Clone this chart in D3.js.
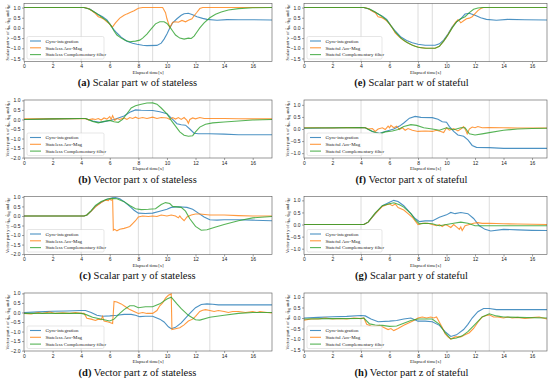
<!DOCTYPE html>
<html>
<head>
<meta charset="utf-8">
<script src="https://cdn.jsdelivr.net/npm/d3@7"></script>
<style>
  body { margin: 0; background: #fff; }
  svg { display: block; font-family: "Liberation Serif", "DejaVu Serif", serif; }
  .tick text { font-size: 5px; fill: #222; }
  .tick line, .domain { stroke: #444; stroke-width: 0.5; }
</style>
</head>
<body>
<svg></svg>
<script>
// time markers and ticks
const markTimes = [4, 8, 9, 13];
const xTicks = [0, 2, 4, 6, 8, 10, 12, 14, 16];
const colors = ["#1f77b4", "#ff7f0e", "#2ca02c"];

// (a) scalar w, stateless
const aGyro = [[0,1],[4.2,1],[4.6,0.93],[5.1,0.7],[5.5,0.55],[5.8,0.4],[6.1,0.1],[6.3,-0.1],[6.5,-0.25],[6.8,-0.45],[7.2,-0.65],[7.6,-0.75],[7.9,-0.8],[8.3,-0.85],[8.6,-0.87],[9.3,-0.86],[9.6,-0.75],[9.8,-0.55],[10.0,-0.3],[10.2,0.0],[10.4,0.25],[10.7,0.45],[11.0,0.62],[11.2,0.7],[11.5,0.72],[11.8,0.65],[12.1,0.55],[12.5,0.47],[12.8,0.42],[13.5,0.38],[14.2,0.41],[15,0.4],[16,0.4],[17.35,0.39]];
const aAccMag = [[0,1],[4.2,1],[4.5,0.95],[4.8,0.82],[5.0,0.7],[5.2,0.55],[5.4,0.5],[5.6,0.42],[5.8,0.3],[6.0,0.2],[6.1,0.08],[6.2,0.05],[6.4,0.25],[6.7,0.48],[7.0,0.62],[7.2,0.69],[7.5,0.78],[7.7,0.84],[8.0,0.97],[8.3,1.0],[9.7,1.0],[9.9,0.75],[10.0,0.45],[10.2,0.02],[10.4,0.28],[10.6,0.3],[10.8,0.28],[11.05,0.37],[11.3,0.3],[11.5,0.38],[11.75,0.45],[11.9,0.6],[12.1,0.77],[12.3,0.95],[12.5,1.0],[17.35,1.0]];
const aComp = [[0,1],[4.2,1],[4.6,0.92],[5.0,0.75],[5.4,0.55],[5.8,0.35],[6.1,0.1],[6.3,-0.15],[6.5,-0.35],[6.8,-0.5],[7.1,-0.62],[7.4,-0.68],[7.8,-0.65],[8.1,-0.6],[8.3,-0.5],[8.6,-0.3],[8.9,-0.05],[9.2,0.2],[9.5,0.3],[9.8,0.3],[10.0,0.22],[10.2,0.05],[10.4,-0.15],[10.6,-0.35],[10.9,-0.5],[11.2,-0.55],[11.5,-0.5],[11.7,-0.52],[11.9,-0.4],[12.1,-0.2],[12.3,0.0],[12.6,0.25],[13.0,0.5],[13.4,0.67],[13.8,0.78],[14.3,0.88],[15,0.95],[16,0.99],[17.35,1.0]];

// (e) scalar w, stateful
const eGyro = [[0,1],[4.2,1],[4.6,0.92],[5.1,0.72],[5.5,0.58],[5.8,0.42],[6.1,0.12],[6.4,-0.15],[6.8,-0.45],[7.2,-0.62],[7.6,-0.73],[8.0,-0.8],[8.5,-0.85],[9.2,-0.85],[9.5,-0.78],[9.8,-0.6],[10.1,-0.3],[10.4,0.05],[10.7,0.3],[11.0,0.45],[11.3,0.68],[11.6,0.72],[12.0,0.62],[12.4,0.5],[12.8,0.42],[13.5,0.38],[14.3,0.42],[15.5,0.4],[17.05,0.39]];
const eAccMag = [[0,1],[4.2,1],[4.5,0.95],[4.8,0.82],[5.0,0.75],[5.2,0.55],[5.4,0.52],[5.6,0.45],[5.8,0.35],[6.0,0.2],[6.2,0.0],[6.4,-0.25],[6.7,-0.45],[7.0,-0.62],[7.4,-0.78],[7.8,-0.9],[8.2,-0.97],[8.6,-1.0],[9.2,-1.0],[9.5,-0.9],[9.8,-0.65],[10.0,-0.45],[10.3,-0.1],[10.6,0.25],[10.8,0.4],[10.9,0.35],[11.0,0.25],[11.2,0.35],[11.4,0.45],[11.6,0.48],[11.8,0.55],[12.0,0.7],[12.2,0.85],[12.4,0.95],[12.6,1.0],[17.05,1.0]];
const eComp = [[0,1],[4.2,1],[4.6,0.93],[5.0,0.78],[5.4,0.6],[5.8,0.38],[6.1,0.1],[6.4,-0.2],[6.8,-0.5],[7.2,-0.7],[7.6,-0.85],[8.0,-0.95],[8.5,-1.0],[9.2,-1.0],[9.5,-0.9],[9.8,-0.65],[10.1,-0.35],[10.4,0.0],[10.7,0.3],[11.0,0.45],[11.3,0.55],[11.6,0.75],[11.9,0.92],[12.2,0.98],[12.5,1.0],[17.05,1.0]];

// (b) vector x, stateless
const bGyro = [[0,0.0],[2,0.03],[4,0.05],[4.3,0.05],[4.8,-0.08],[5.3,-0.15],[5.7,-0.1],[6.0,-0.05],[6.3,0.0],[6.7,0.1],[7.0,0.18],[7.4,0.38],[7.8,0.5],[8.2,0.48],[9.0,0.47],[9.5,0.4],[10.0,0.3],[10.2,0.15],[10.4,0.0],[10.7,-0.22],[11.0,-0.28],[11.3,-0.3],[11.6,-0.5],[11.9,-0.72],[12.2,-0.75],[13,-0.75],[14,-0.77],[15,-0.8],[17.35,-0.8]];
const bAccMag = [[0,0.03],[2,0.03],[4,0.04],[4.3,0.05],[4.5,-0.02],[4.8,0.03],[5.0,0.0],[5.2,0.05],[5.4,-0.03],[5.6,0.08],[5.8,0.02],[6.0,0.15],[6.1,0.0],[6.2,0.2],[6.35,-0.05],[6.5,0.05],[6.7,0.0],[7.0,0.08],[7.2,0.0],[7.4,0.1],[7.6,0.05],[7.8,0.12],[8.0,0.05],[8.3,0.1],[8.6,0.05],[9.0,0.12],[9.3,0.05],[9.6,0.1],[10.0,0.08],[10.2,0.0],[10.4,0.1],[10.6,0.02],[10.8,0.1],[11.0,0.0],[11.2,0.1],[11.4,-0.05],[11.5,-0.2],[11.6,0.0],[11.8,0.08],[12.0,0.03],[12.3,0.1],[12.6,0.05],[13,0.05],[14,0.05],[15,0.04],[16,0.03],[17.35,0.03]];
const bComp = [[0,0.0],[2,0.03],[4,0.05],[4.3,0.05],[4.8,-0.1],[5.2,-0.18],[5.6,-0.1],[6.0,-0.05],[6.3,-0.12],[6.6,-0.15],[6.9,0.0],[7.2,0.3],[7.5,0.6],[7.8,0.72],[8.2,0.8],[8.6,0.86],[9.0,0.87],[9.3,0.8],[9.6,0.6],[10.0,0.3],[10.3,-0.05],[10.6,-0.35],[10.9,-0.65],[11.2,-0.83],[11.5,-0.88],[11.8,-0.85],[12.0,-0.65],[12.3,-0.4],[12.7,-0.25],[13.2,-0.18],[14,-0.13],[15,-0.08],[16,-0.03],[17.35,0.0]];

// (f) vector x, stateful
const fGyro = [[0,0.03],[2,0.04],[4,0.06],[4.3,0.05],[4.8,-0.1],[5.3,-0.18],[5.7,-0.1],[6.0,-0.05],[6.3,0.0],[6.7,0.12],[7.0,0.25],[7.4,0.45],[7.8,0.52],[8.2,0.48],[9.0,0.47],[9.4,0.4],[9.7,0.3],[10.0,0.28],[10.2,0.1],[10.5,-0.1],[10.8,-0.25],[11.2,-0.3],[11.5,-0.45],[11.8,-0.68],[12.1,-0.76],[13,-0.77],[14,-0.8],[17.05,-0.8]];
const fAccMag = [[0,0.05],[1,0.05],[2,0.04],[3,0.06],[4,0.05],[4.3,0.05],[4.5,0.0],[4.8,0.02],[5.0,-0.1],[5.2,0.0],[5.5,0.05],[5.7,-0.02],[5.9,0.12],[6.0,0.05],[6.1,0.15],[6.3,0.05],[6.5,0.12],[6.7,-0.02],[6.9,0.05],[7.1,-0.05],[7.3,0.02],[7.6,-0.05],[8.0,-0.1],[8.5,-0.08],[9.0,-0.1],[9.3,-0.05],[9.6,-0.1],[9.8,-0.15],[10.0,0.05],[10.2,-0.05],[10.5,0.02],[10.8,-0.08],[11.0,0.0],[11.2,0.1],[11.35,-0.05],[11.45,-0.2],[11.6,0.0],[11.8,0.08],[12.0,0.05],[12.2,0.1],[12.5,0.05],[13,0.06],[14,0.05],[15,0.04],[17.05,0.04]];
const fComp = [[0,0.04],[2,0.05],[4,0.06],[4.3,0.05],[4.8,-0.1],[5.3,-0.2],[5.7,-0.12],[6.2,-0.08],[6.6,-0.02],[7.0,0.1],[7.5,0.18],[7.9,0.15],[8.4,0.05],[9.0,0.0],[9.5,-0.05],[10.0,0.05],[10.5,-0.03],[11.0,0.05],[11.3,0.05],[11.6,-0.2],[12.0,-0.25],[12.5,-0.2],[13,-0.15],[14,-0.05],[15,0.0],[16,0.02],[17.05,0.03]];

// (c) vector y, stateless
const cGyro = [[0,0],[4.2,0],[4.4,0.05],[4.7,0.25],[5.0,0.5],[5.4,0.72],[5.8,0.88],[6.2,0.95],[6.4,0.97],[6.7,0.9],[7.0,0.75],[7.4,0.5],[7.7,0.3],[8.0,0.15],[8.5,0.13],[9.0,0.15],[9.5,0.25],[10.0,0.35],[10.3,0.45],[10.8,0.48],[11.4,0.45],[11.8,0.35],[12.2,0.15],[12.6,-0.05],[13,-0.2],[13.5,-0.22],[14,-0.2],[15,-0.2],[16,-0.22],[17.35,-0.25]];
const cAccMag = [[0,0],[4.2,0],[4.4,0.05],[4.7,0.25],[5.0,0.48],[5.4,0.7],[5.7,0.83],[5.9,0.8],[6.0,0.9],[6.1,0.82],[6.2,0.88],[6.25,-0.75],[6.35,-0.7],[6.5,-0.78],[6.7,-0.7],[7.0,-0.65],[7.2,-0.6],[7.4,-0.55],[7.6,-0.4],[7.8,-0.25],[8.0,-0.05],[8.3,0.0],[8.7,-0.03],[9.0,0.0],[9.3,-0.03],[9.6,0.05],[10.0,0.0],[10.3,0.05],[10.6,0.0],[10.8,-0.1],[10.9,0.0],[11.0,-0.1],[11.2,-0.25],[11.4,-0.05],[11.7,0.05],[12.0,0.1],[12.3,0.1],[13,0.05],[14,0.05],[15,0.02],[16,0.0],[17.35,0.0]];
const cComp = [[0,0],[4.2,0],[4.4,0.05],[4.7,0.28],[5.0,0.55],[5.4,0.76],[5.8,0.88],[6.2,0.92],[6.5,0.9],[7.0,0.75],[7.4,0.55],[7.8,0.38],[8.2,0.33],[8.7,0.35],[9.2,0.38],[9.6,0.6],[9.9,0.7],[10.2,0.65],[10.4,0.5],[11.0,0.45],[11.3,0.25],[11.6,-0.15],[12.0,-0.55],[12.4,-0.75],[12.8,-0.72],[13.3,-0.6],[14,-0.45],[15,-0.25],[16,-0.1],[17.35,-0.03]];

// (g) vector y, stateful
const gGyro = [[0,0],[4.2,0],[4.5,0.1],[5.0,0.45],[5.5,0.78],[6.0,0.92],[6.3,1.0],[6.6,0.95],[7.0,0.78],[7.5,0.45],[7.8,0.25],[8.1,0.12],[8.5,0.15],[9.0,0.15],[9.5,0.3],[10.0,0.4],[10.3,0.5],[10.6,0.45],[11.0,0.5],[11.5,0.45],[11.9,0.25],[12.3,-0.05],[12.7,-0.2],[13.1,-0.27],[14,-0.2],[15,-0.22],[16,-0.24],[17.05,-0.25]];
const gAccMag = [[0,0],[4.2,0],[4.5,0.1],[5.0,0.45],[5.5,0.75],[5.8,0.82],[6.0,0.85],[6.2,0.78],[6.4,0.85],[6.6,0.7],[7.0,0.6],[7.3,0.45],[7.6,0.3],[8.0,0.0],[8.3,0.05],[8.7,0.05],[9.0,0.0],[9.3,-0.05],[9.5,0.0],[9.7,-0.08],[9.9,0.0],[10.1,-0.05],[10.3,-0.12],[10.5,0.0],[10.7,-0.1],[10.9,-0.2],[11.0,-0.1],[11.1,-0.25],[11.3,-0.05],[11.6,0.0],[11.9,0.05],[12.2,0.08],[12.5,0.05],[13,0.05],[14,0.03],[15,0.02],[17.05,0.0]];
const gComp = [[0,0],[4.2,0],[4.5,0.1],[5.0,0.48],[5.5,0.78],[6.0,0.86],[6.3,0.9],[6.7,0.82],[7.0,0.72],[7.5,0.45],[7.8,0.2],[8.1,0.03],[8.5,0.05],[9.0,0.03],[9.5,-0.05],[10.0,0.0],[10.5,0.05],[11.0,0.1],[11.5,0.05],[12.0,-0.05],[13,-0.05],[14,-0.05],[17.05,-0.05]];

// (d) vector z, stateless
const dGyro = [[0,0.0],[1,0.03],[2,0.06],[3,0.08],[4,0.1],[4.3,0.1],[4.7,0.0],[5.1,-0.15],[5.5,-0.2],[6.0,-0.18],[6.5,-0.15],[7.0,-0.1],[7.5,-0.1],[7.8,-0.15],[8.1,-0.22],[8.5,-0.2],[9.0,-0.2],[9.5,-0.35],[9.8,-0.5],[10.1,-0.75],[10.3,-0.85],[10.6,-0.78],[11.0,-0.55],[11.3,-0.3],[11.6,-0.05],[12.0,0.25],[12.4,0.42],[12.8,0.45],[13.2,0.43],[13.6,0.4],[15,0.4],[17.35,0.4]];
const dAccMag = [[0,-0.05],[0.5,-0.08],[1,0.0],[1.3,-0.05],[1.8,0.02],[2.2,-0.05],[2.7,-0.02],[3.2,-0.05],[3.6,0.0],[4.0,-0.05],[4.2,-0.05],[4.4,-0.3],[4.7,-0.35],[5.0,-0.42],[5.2,-0.35],[5.4,-0.38],[5.5,-0.2],[5.6,-0.45],[5.9,-0.5],[6.1,-0.55],[6.2,-0.58],[6.3,0.58],[6.5,0.55],[6.8,0.45],[7.1,0.3],[7.4,0.15],[7.7,0.05],[8.0,-0.05],[8.3,0.0],[8.6,-0.05],[9.0,-0.05],[9.3,0.1],[9.5,0.35],[9.7,0.5],[9.9,0.75],[10.1,0.9],[10.3,0.97],[10.35,-0.9],[10.6,-0.85],[10.9,-0.8],[11.2,-0.65],[11.5,-0.45],[11.8,-0.35],[12.0,-0.2],[12.3,0.05],[12.5,0.12],[12.7,0.15],[13.0,0.1],[13.3,0.05],[13.6,0.1],[14.0,0.05],[14.3,0.0],[14.6,0.05],[15.0,0.05],[15.5,0.0],[16.0,0.05],[16.3,0.0],[16.5,0.05],[17.0,0.0],[17.35,-0.02]];
const dComp = [[0,-0.05],[2,-0.05],[4,-0.05],[4.3,-0.1],[4.8,-0.25],[5.2,-0.32],[5.6,-0.38],[6.0,-0.45],[6.3,-0.35],[6.7,-0.05],[7.0,0.15],[7.4,0.35],[7.7,0.35],[8.0,0.25],[8.5,0.3],[9.0,0.3],[9.5,0.45],[10.0,0.7],[10.3,0.8],[10.7,0.45],[11.0,0.2],[11.5,-0.15],[12.0,-0.38],[12.3,-0.4],[13,-0.25],[14,-0.15],[15,-0.05],[16,0.0],[17.35,0.0]];

// (h) vector z, stateful
const hGyro = [[0,0.0],[1,0.03],[2,0.06],[3,0.08],[4,0.12],[4.3,0.1],[4.7,-0.05],[5.2,-0.18],[6.0,-0.15],[6.5,-0.12],[7.0,-0.05],[7.5,0.0],[8.0,-0.15],[8.5,-0.15],[9.0,-0.18],[9.5,-0.35],[9.9,-0.65],[10.3,-0.88],[10.7,-0.8],[11.2,-0.55],[11.5,-0.3],[11.8,0.0],[12.2,0.3],[12.6,0.45],[13.0,0.45],[13.5,0.4],[15,0.4],[17.05,0.4]];
const hAccMag = [[0,-0.1],[0.5,-0.05],[1,-0.05],[1.5,0.0],[2,-0.05],[2.5,-0.02],[3,-0.05],[3.5,0.0],[4,-0.03],[4.2,0.0],[4.4,-0.3],[4.7,-0.38],[5.0,-0.4],[5.3,-0.35],[5.6,-0.45],[5.9,-0.55],[6.1,-0.5],[6.3,-0.6],[6.6,-0.5],[7.0,-0.35],[7.3,-0.25],[7.6,-0.15],[8.0,0.0],[8.3,0.05],[8.6,0.0],[8.9,0.05],[9.1,0.0],[9.3,0.05],[9.5,-0.2],[9.7,-0.45],[9.9,-0.75],[10.1,-0.9],[10.3,-1.0],[10.6,-0.9],[11.0,-0.9],[11.3,-0.8],[11.6,-0.7],[11.9,-0.5],[12.2,-0.2],[12.5,0.05],[12.8,0.12],[13.0,0.15],[13.3,0.05],[13.6,0.05],[14.0,0.0],[14.3,0.05],[14.6,0.0],[15.0,0.03],[15.5,-0.02],[16.0,0.02],[16.5,0.05],[17.05,-0.05]];
const hComp = [[0,-0.05],[2,-0.03],[4,-0.02],[4.2,0.0],[4.6,-0.28],[5.0,-0.33],[5.5,-0.35],[6.0,-0.4],[6.5,-0.38],[7.0,-0.25],[7.5,-0.12],[8.0,-0.05],[9.0,-0.05],[9.5,-0.3],[9.9,-0.7],[10.3,-1.0],[10.7,-0.95],[11.1,-0.85],[11.5,-0.65],[12.0,-0.3],[12.5,0.05],[13.0,0.2],[13.5,0.1],[14,0.05],[15,0.03],[17.05,0.0]];

const ticksW = [1, 0.5, 0, -0.5, -1, -1.5];
const ticksWide = [1, 0.5, 0, -0.5, -1, -1.5, -2];
const ticksNarrow = [1, 0.5, 0, -0.5, -1];

const panels = [
    { id: "a", col: 0, row: 0, y: [-1.65, 1.2], ticks: ticksW, part: "Scalar part w", series: [aGyro, aAccMag, aComp], caption: "Scalar part w of stateless" },
    { id: "b", col: 0, row: 1, y: [-2.02, 1.02], ticks: ticksWide, part: "Vector part x", series: [bGyro, bAccMag, bComp], caption: "Vector part x of stateless" },
    { id: "c", col: 0, row: 2, y: [-2.02, 1.02], ticks: ticksWide, part: "Vector part y", series: [cGyro, cAccMag, cComp], caption: "Scalar part y of stateless" },
    { id: "d", col: 0, row: 3, y: [-2.02, 1.02], ticks: ticksWide, part: "Vector part z", series: [dGyro, dAccMag, dComp], caption: "Vector part z of stateless" },
    { id: "e", col: 1, row: 0, y: [-1.65, 1.2], ticks: ticksW, part: "Scalar part w", series: [eGyro, eAccMag, eComp], caption: "Scalar part w of stateful" },
    { id: "f", col: 1, row: 1, y: [-1.2, 1.2], ticks: ticksNarrow, part: "Vector part x", series: [fGyro, fAccMag, fComp], caption: "Vector part x of stateful" },
    { id: "g", col: 1, row: 2, y: [-1.24, 1.16], ticks: ticksNarrow, part: "Vector part y", series: [gGyro, gAccMag, gComp], caption: "Scalar part y of stateful" },
    { id: "h", col: 1, row: 3, y: [-1.57, 1.19], ticks: ticksW, part: "Vector part z", series: [hGyro, hAccMag, hComp], caption: "Vector part z of stateful" }
];

const width = 550, height = 390;
const svg = d3.select("svg").attr("width", width).attr("height", height);

function drawPanel(p) {
    const left = p.col === 0 ? 24 : 304;
    const right = p.col === 0 ? 272 : 547;
    const top = 3.5 + p.row * 96.5;
    const bottom = top + 58;
    const kind = p.col === 0 ? "Stateless" : "Stateful";

    const x = d3.scaleLinear().domain([0, p.col === 0 ? 17.35 : 17.05]).range([left, right]);
    const y = d3.scaleLinear().domain(p.y).range([bottom, top]);
    const g = svg.append("g");

    g.append("defs").append("clipPath").attr("id", "clip-" + p.id)
        .append("rect").attr("x", left).attr("y", top).attr("width", right - left).attr("height", bottom - top);

    g.selectAll(".mark").data(markTimes).join("line")
        .attr("x1", d => x(d)).attr("x2", d => x(d))
        .attr("y1", top).attr("y2", bottom)
        .attr("stroke", "#d8d8d8").attr("stroke-width", 0.9);

    const line = d3.line().x(d => x(d[0])).y(d => y(d[1]));
    g.append("g").attr("clip-path", `url(#clip-${p.id})`)
        .selectAll("path").data(p.series).join("path")
        .attr("d", d => line(d))
        .attr("fill", "none")
        .attr("stroke", (d, i) => colors[i])
        .attr("stroke-opacity", 0.8)
        .attr("stroke-width", 1.1);

    g.append("g").attr("transform", `translate(0,${bottom})`)
        .call(d3.axisBottom(x).tickValues(xTicks).tickSize(2).tickPadding(1).tickFormat(d3.format("d")))
        .call(a => a.select(".domain").remove());
    g.append("g").attr("transform", `translate(${left},0)`)
        .call(d3.axisLeft(y).tickValues(p.ticks).tickSize(2).tickPadding(1.5).tickFormat(d3.format(".1f")))
        .call(a => a.select(".domain").remove());

    g.append("rect").attr("x", left).attr("y", top)
        .attr("width", right - left).attr("height", bottom - top)
        .attr("fill", "none").attr("stroke", "#555").attr("stroke-width", 0.6);

    g.append("text").attr("x", (left + right) / 2).attr("y", bottom + 12.3)
        .attr("text-anchor", "middle").attr("font-size", 5).attr("fill", "#222")
        .text("Elapsed time[s]");

    const yl = g.append("text")
        .attr("transform", `translate(${left - 15.5},${(top + bottom) / 2}) rotate(-90)`)
        .attr("text-anchor", "middle").attr("font-size", 4.6).attr("fill", "#222");
    yl.append("tspan").text(p.part + " of q̂");
    yl.append("tspan").attr("font-size", 3.2).attr("dy", 1).text("ω");
    yl.append("tspan").attr("dy", -1).text(", q̂");
    yl.append("tspan").attr("font-size", 3.2).attr("dy", 1).text("ag");
    yl.append("tspan").attr("dy", -1).text(" and q̂");
    yl.append("tspan").attr("font-size", 3.2).attr("dy", 1).text("cf");

    // legend
    const names = ["Gyro-integration", kind + " Acc-Mag", kind + " Complementary filter"];
    const lg = g.append("g").attr("transform", `translate(${left + 3},${bottom - 25})`);
    lg.append("rect").attr("width", p.col === 0 ? 77 : 75).attr("height", 22.5).attr("rx", 1.5)
        .attr("fill", "#fff").attr("fill-opacity", 0.85).attr("stroke", "#ccc").attr("stroke-width", 0.5);
    const items = lg.selectAll(".item").data(names).join("g")
        .attr("transform", (d, i) => `translate(3,${4.5 + i * 6.8})`);
    items.append("line").attr("x1", 0).attr("x2", 11)
        .attr("stroke", (d, i) => colors[i]).attr("stroke-opacity", 0.8).attr("stroke-width", 1.1);
    items.append("text").attr("x", 15.5).attr("dy", "0.35em")
        .attr("font-size", 4.9).attr("fill", "#222").text(d => d);

    const cap = g.append("text").attr("x", p.col === 0 ? 137.5 : 411.5).attr("y", top + 82.5)
        .attr("text-anchor", "middle").attr("font-size", 10.5).attr("fill", "#111");
    cap.append("tspan").attr("font-weight", "bold").text(`(${p.id})`);
    cap.append("tspan").text(" " + p.caption);
}

panels.forEach(drawPanel);
</script>
</body>
</html>
